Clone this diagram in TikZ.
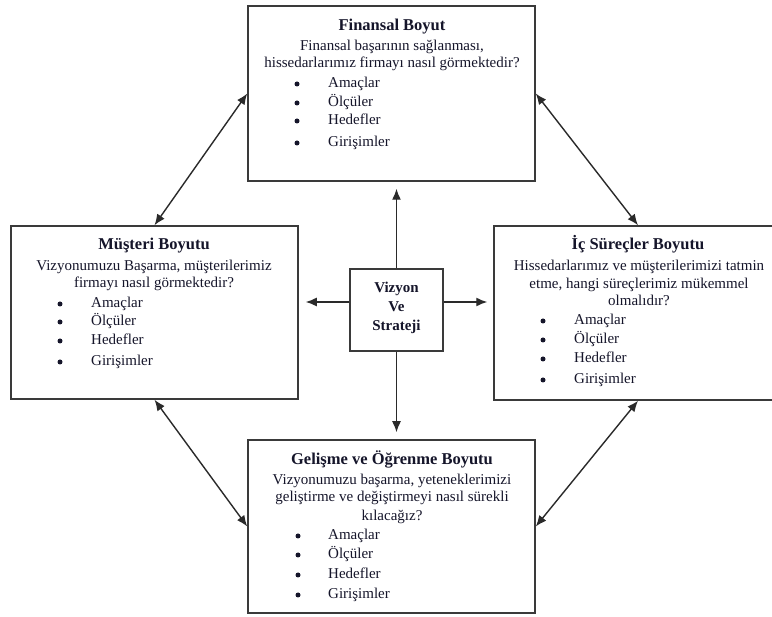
\documentclass[tikz,border=0pt]{standalone}
\usepackage{fontspec}
\setmainfont{Liberation Serif}
\usetikzlibrary{arrows.meta,calc}
\definecolor{boxc}{HTML}{3A3A3A}
\definecolor{linec}{HTML}{2A2A2A}
\definecolor{txtc}{HTML}{15152A}
\begin{document}
\begin{tikzpicture}[x=1pt,y=-1pt,
  box/.style={draw=boxc, line width=1.5pt, fill=white, rectangle, inner sep=0pt},
  ttl/.style={font=\fontsize{16.5}{19}\selectfont\bfseries, text=txtc, anchor=mid, inner sep=0pt, yshift=-3pt},
  txt/.style={font=\fontsize{15}{18}\selectfont, text=txtc, anchor=mid, inner sep=0pt, yshift=-3pt},
  itm/.style={txt, anchor=mid west},
  bul/.style={circle, fill=txtc, inner sep=0pt, minimum size=5pt, yshift=-2pt},
  ctr/.style={font=\fontsize{15}{18}\selectfont\bfseries, text=txtc, anchor=mid, inner sep=0pt, yshift=-3pt},
  arr/.style={draw=linec, line width=1.4pt, -{Latex[length=11pt,width=9pt]}},
  darr/.style={draw=linec, line width=1.4pt, {Latex[length=11pt,width=9pt]}-{Latex[length=11pt,width=9pt]}}]
\clip (0,0) rectangle (772,617);
\fill[white] (0,0) rectangle (772,617);

% boxes
\node[box, minimum width=287pt, minimum height=175pt] (fin) at (391.5,93.5) {};
\node[box, minimum width=287pt, minimum height=173pt] (mus) at (154.5,312.5) {};
\node[box, minimum width=288pt, minimum height=174pt] (ic)  at (638,313) {};
\node[box, minimum width=287pt, minimum height=173pt] (gel) at (391.5,526.5) {};
\node[box, minimum width=93pt, minimum height=82pt] (c) at (396.5,310) {};

% center text
\node[ctr] (c1) at (396.5,287) {Vizyon};
\node[ctr] (c2) at (396.5,306) {Ve};
\node[ctr] (c3) at (396.5,325) {Strateji};

% Finansal
\node[ttl] (ft) at (392,25) {Finansal Boyut};
\node[txt] (fl1) at (392,45) {Finansal başarının sağlanması,};
\node[txt] (fl2) at (392,62) {hissedarlarımız firmayı nasıl görmektedir?};
\foreach \t/\yy [count=\i] in {Amaçlar/82, Ölçüler/101, Hedefler/119, Girişimler/141}{
  \node[bul] (fb\i) at (297,\yy) {};
  \node[itm] (fi\i) at (328,\yy) {\t};
}

% Musteri
\node[ttl] (mt) at (154,244) {Müşteri Boyutu};
\node[txt] (ml1) at (154,265) {Vizyonumuzu Başarma, müşterilerimiz};
\node[txt] (ml2) at (154,282) {firmayı nasıl görmektedir?};
\foreach \t/\yy [count=\i] in {Amaçlar/302, Ölçüler/320, Hedefler/339, Girişimler/360}{
  \node[bul] (mb\i) at (60,\yy) {};
  \node[itm] (mi\i) at (91,\yy) {\t};
}

% Ic Surecler
\node[ttl] (it) at (638,244) {İç Süreçler Boyutu};
\node[txt] (il1) at (639,265) {Hissedarlarımız ve müşterilerimizi tatmin};
\node[txt] (il2) at (639,283) {etme, hangi süreçlerimiz mükemmel};
\node[txt] (il3) at (639,300) {olmalıdır?};
\foreach \t/\yy [count=\i] in {Amaçlar/319, Ölçüler/338, Hedefler/357, Girişimler/378}{
  \node[bul] (ib\i) at (543,\yy) {};
  \node[itm] (ii\i) at (574,\yy) {\t};
}

% Gelisme
\node[ttl] (gt) at (392,459) {Gelişme ve Öğrenme Boyutu};
\node[txt] (gl1) at (392,479) {Vizyonumuzu başarma, yeteneklerimizi};
\node[txt] (gl2) at (392,496) {geliştirme ve değiştirmeyi nasıl sürekli};
\node[txt] (gl3) at (392,515) {kılacağız?};
\foreach \t/\yy [count=\i] in {Amaçlar/534, Ölçüler/553, Hedefler/573, Girişimler/593}{
  \node[bul] (gb\i) at (298,\yy) {};
  \node[itm] (gi\i) at (328,\yy) {\t};
}

% arrows from center
\coordinate (hy) at (0,302);
\draw[arr, shorten >=7pt] (c.north) -- (c.north |- fin.south);
\draw[arr, shorten >=7pt] (c.south) -- (c.south |- gel.north);
\draw[arr, shorten >=7pt] (c.west |- hy) -- (mus.east |- hy);
\draw[arr, shorten >=6pt] (c.east |- hy) -- (ic.west |- hy);

% diagonal double arrows
\draw[darr] (fin.west) -- (mus.north);
\draw[darr] (fin.east) -- (ic.north);
\draw[darr] (mus.south) -- (gel.west);
\draw[darr] (ic.south) -- (gel.east);
\end{tikzpicture}
\end{document}
